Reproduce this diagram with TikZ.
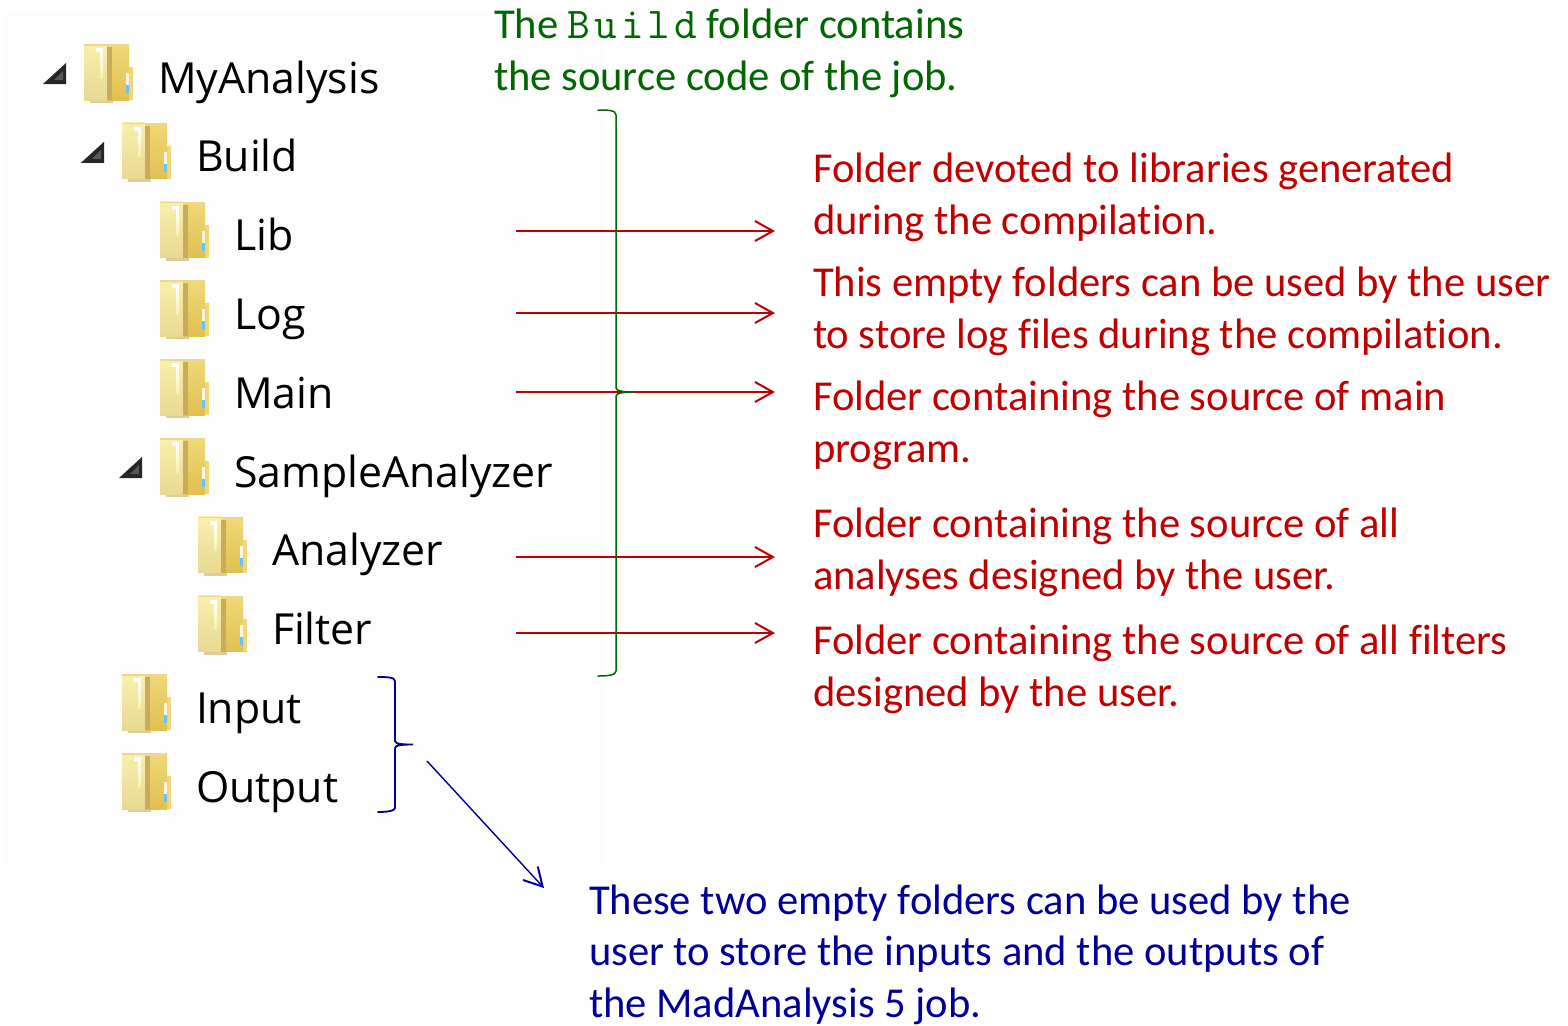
\documentclass[tikz,border=0pt]{standalone}
\usepackage{fontspec}
\setmainfont[Ligatures=NoCommon]{Carlito}
\setsansfont{Open Sans}
\setmonofont[LetterSpace=9]{Latin Modern Mono}
\definecolor{note-green}{RGB}{0,102,0}
\definecolor{note-red}{RGB}{192,0,0}
\definecolor{note-blue}{RGB}{0,0,153}
\definecolor{panel}{RGB}{253,253,253}
\definecolor{fd-light}{RGB}{250,240,170}
\definecolor{fd-pale}{RGB}{232,216,146}
\definecolor{fd-gold}{RGB}{240,216,120}
\definecolor{fd-deep}{RGB}{224,192,80}
\definecolor{fd-fold}{RGB}{200,172,90}
\usetikzlibrary{
  arrows.meta,     % open arrow tips
  positioning      % positions like right of node
}
\tikzset{
  node distance=9.9pt and 12.5pt,
  folder/.style = {
    minimum width=24.5pt,
    minimum height=29.5pt,
    inner sep=0pt,
    outer sep=0pt
  },
  expander/.style = {
    minimum width=11.5pt,
    minimum height=10.5pt,
    inner sep=0pt,
    outer sep=0pt
  },
  foldericon/.pic = {
    \begin{scope}[shift={(-24.5,-29.5)}]
      \fill[fd-fold!60!white] (6,56) rectangle (29,59);
      \fill[fd-gold] (45,23) rectangle (49,56);
      \fill[top color=fd-light,bottom color=fd-pale] (0,0) rectangle (23,56);
      \fill[top color=fd-gold,bottom color=fd-deep] (23,1) rectangle (45,56);
      \fill[fd-fold] (23,3) rectangle (28,56);
      \fill[fd-pale] (0,0) rectangle (45,1.5);
      \fill[white] (12,4) rectangle (19,8);
      \fill[top color=white,bottom color=fd-light] (16,8) rectangle (19,34);
      \fill[white!80!fd-gold] (42,29) rectangle (45,41);
      \fill[blue!40!cyan!60!white] (42,41) rectangle (45,49);
    \end{scope}
  },
  expandericon/.pic = {
    \begin{scope}[shift={(-11.5,-10.5)}]
      \fill[black!85] (23,0) -- (23,21) -- (0,21) -- cycle;
      \fill[black!65] (20,8) -- (20,17) -- (11,17) -- cycle;
    \end{scope}
  },
  entry/.style = {
    font=\sffamily\fontsize{21.4}{26}\selectfont,
    text height=25.5pt,
    text depth=6pt,
    inner sep=0pt,
    outer sep=0pt
  },
  note/.style = {
    font=\fontsize{21.3}{25.75}\selectfont,
    align=left,
    inner sep=0pt,
    outer sep=0pt,
    anchor=base west
  },
  pointer/.style = {
    -{Straight Barb[length=9pt,width=10pt,line width=1pt]},
    line width=.7pt
  },
  brace/.style = {line cap=round}
}

\begin{document}
\begin{tikzpicture}[x=.5pt,y=-.5pt]
  \useasboundingbox (0,0) rectangle (1568,1025);
  \fill[panel] (6,12) rectangle (604,865);

  %% tree
  \node[folder] (FMyAnalysis) at (108.5,73.5) {};
  \node[folder] (FBuild) [below=of FMyAnalysis, xshift=19pt] {};
  \node[folder] (FLib) [below=of FBuild, xshift=19pt] {};
  \node[folder] (FLog) [below=of FLib] {};
  \node[folder] (FMain) [below=of FLog] {};
  \node[folder] (FSample) [below=of FMain] {};
  \node[folder] (FAnalyzer) [below=of FSample, xshift=19pt] {};
  \node[folder] (FFilter) [below=of FAnalyzer] {};
  \node[folder] (FInput) [below=of FFilter, xshift=-38pt] {};
  \node[folder] (FOutput) [below=of FInput] {};

  \node[expander] (XMyAnalysis) [left=9pt of FMyAnalysis] {};
  \node[expander] (XBuild) [left=9pt of FBuild] {};
  \node[expander] (XSample) [left=9pt of FSample] {};

  \foreach \name in {FMyAnalysis,FBuild,FLib,FLog,FMain,FSample,FAnalyzer,FFilter,FInput,FOutput}
    \pic at (\name) {foldericon};
  \foreach \name in {XMyAnalysis,XBuild,XSample}
    \pic at (\name) {expandericon};

  \node[entry] (LMyAnalysis) [right=of FMyAnalysis] {MyAnalysis};
  \node[entry] (LBuild) [right=of FBuild] {Build};
  \node[entry] (LLib) [right=of FLib] {Lib};
  \node[entry] (LLog) [right=of FLog] {Log};
  \node[entry] (LMain) [right=of FMain] {Main};
  \node[entry] (LSample) [right=of FSample] {SampleAnalyzer};
  \node[entry] (LAnalyzer) [right=of FAnalyzer] {Analyzer};
  \node[entry] (LFilter) [right=of FFilter] {Filter};
  \node[entry] (LInput) [right=of FInput] {Input};
  \node[entry] (LOutput) [right=of FOutput] {Output};

  %% notes
  \node[note,text=note-green] (NBuild) at (494,90) {The {\ttfamily\fontsize{22}{25.75}\selectfont Build} folder contains\\the source code of the job.};
  \node[note,text=note-red] (NLib) at (813,234) {Folder devoted to libraries generated\\during the compilation.};
  \node[note,text=note-red] (NLog) at (813,348) {This empty folders can be used by the user\\to store log files during the compilation.};
  \node[note,text=note-red] (NMain) at (813,462) {Folder containing the source of main\\program.};
  \node[note,text=note-red] (NAnalyzer) at (813,589) {Folder containing the source of all\\analyses designed by the user.};
  \node[note,text=note-red] (NFilter) at (813,706) {Folder containing the source of all filters\\designed by the user.};
  \node[note,text=note-blue] (NInout) at (589,1017) {These two empty folders can be used by the\\user to store the inputs and the outputs of\\the MadAnalysis 5 job.};

  %% arrows
  \coordinate (ALib) at (516,231);
  \coordinate (ALog) at (516,313);
  \coordinate (AMain) at (516,392);
  \coordinate (AAnalyzer) at (516,557);
  \coordinate (AFilter) at (516,633);
  \draw[pointer,note-red,shorten >=19pt] (ALib) to (ALib -| NLib.west);
  \draw[pointer,note-red,shorten >=19pt] (ALog) to (ALog -| NLog.west);
  \draw[pointer,note-red,shorten >=19pt] (AMain) to (AMain -| NMain.west);
  \draw[pointer,note-red,shorten >=19pt] (AAnalyzer) to (AAnalyzer -| NAnalyzer.west);
  \draw[pointer,note-red,shorten >=19pt] (AFilter) to (AFilter -| NFilter.west);

  %% braces
  \coordinate (GreenTop) at (598,110);
  \coordinate (GreenBot) at (598,676);
  \coordinate (BlueTop) at (378,677);
  \coordinate (BlueBot) at (378,812);
  \coordinate (BlueTail) at (427,761);
  \coordinate (BlueHead) at (544,888);
  \draw[brace,note-green,line width=.75pt] (GreenTop) .. controls (608,110) and (616,110) .. (616,115)
    -- (616,388) .. controls (616,391) and (624,392) .. (634,392)
    .. controls (624,392) and (616,393) .. (616,396)
    -- (616,671) .. controls (616,675) and (608,676) .. (GreenBot);
  \draw[brace,note-blue,line width=.9pt] (BlueTop) .. controls (386,677) and (395,677) .. (395,681)
    -- (395,741) .. controls (395,744) and (403,744.5) .. (413,744.5)
    .. controls (403,744.5) and (395,745) .. (395,748)
    -- (395,808) .. controls (395,811) and (386,812) .. (BlueBot);
  \draw[pointer,note-blue] (BlueTail) to (BlueHead);
\end{tikzpicture}
\end{document}
